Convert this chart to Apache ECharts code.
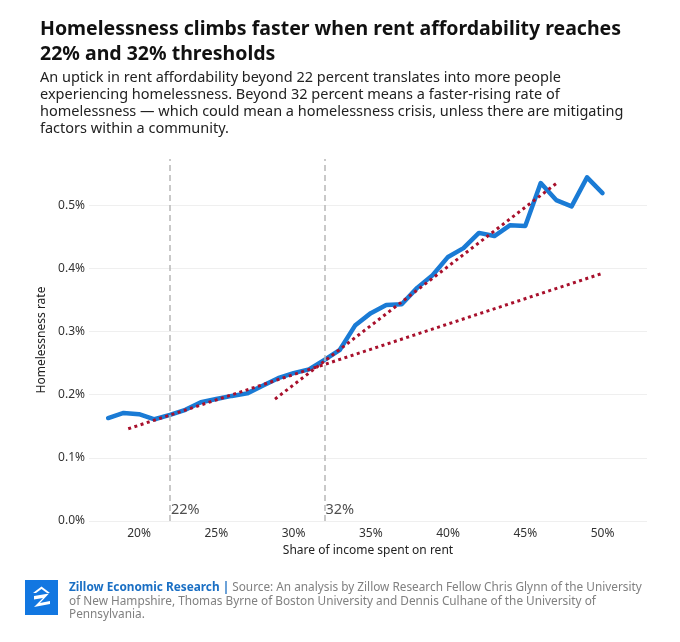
<!DOCTYPE html>
<html>
<head>
<meta charset="utf-8">
<script src="https://cdn.jsdelivr.net/npm/echarts@6/dist/echarts.min.js"></script>
<style>
html,body{margin:0;padding:0;background:#fff;}
#chart{width:680px;height:642px;}
</style>
</head>
<body>
<div id="chart"></div>
<script>
// ---- data ----
const rentShare = [18,19,20,21,22,23,24,25,26,27,28,29,30,31,32,33,34,35,36,37,38,39,40,41,42,43,44,45,46,47,48,49,50];
const homelessRate = [0.163,0.171,0.169,0.161,0.168,0.176,0.188,0.193,0.198,0.202,0.214,0.226,0.234,0.240,0.255,0.271,0.310,0.329,0.342,0.343,0.369,0.389,0.418,0.432,0.456,0.451,0.468,0.467,0.535,0.508,0.498,0.544,0.519];
const trendBelow32 = [[19.3,0.146],[50,0.392]];
const trendAbove32 = [[28.8,0.193],[47.1,0.536]];
const thresholds = [22, 32];
const thresholdLabels = ['22%', '32%'];
const xTicks = [20,25,30,35,40,45,50];
const yTicks = [0,0.1,0.2,0.3,0.4,0.5];

const FONT = '"Noto Sans", sans-serif';
const chart = echarts.init(document.getElementById('chart'), null, {renderer:'canvas'});

const option = {
  backgroundColor:'#fff',
  animation:false,
  textStyle:{fontFamily:FONT},
  title:[
    {text:'Homelessness climbs faster when rent affordability reaches\n22% and 32% thresholds',
     left:35, top:12,
     textStyle:{fontFamily:FONT, fontSize:19.5, fontWeight:'bold', color:'#111', lineHeight:25}},
    {text:'An uptick in rent affordability beyond 22 percent translates into more people\nexperiencing homelessness. Beyond 32 percent means a faster-rising rate of\nhomelessness \u2014 which could mean a homelessness crisis, unless there are mitigating\nfactors within a community.',
     left:35, top:64,
     textStyle:{fontFamily:FONT, fontSize:14.5, fontWeight:'normal', color:'#222', lineHeight:17}},
    {text:'{b|Zillow Economic Research |} Source: An analysis by Zillow Research Fellow Chris Glynn of the University\nof New Hampshire, Thomas Byrne of Boston University and Dennis Culhane of the University of\nPennsylvania.',
     left:64, top:576,
     textStyle:{fontFamily:FONT, fontSize:11.8, fontWeight:'normal', color:'#808080', lineHeight:13.5,
       rich:{b:{fontFamily:FONT, fontSize:11.8, fontWeight:'bold', color:'#1a6fc4', lineHeight:13.5}}}}
  ],
  graphic:[
    {type:'rect', left:25, top:580, shape:{width:33, height:35}, style:{fill:'#1277e1'}},
    {type:'polygon', shape:{points:[[33,593],[41.5,586.5],[50,593],[47,593],[41.5,589],[36,593]]}, style:{fill:'#fff'}},
    {type:'polygon', shape:{points:[[34,596],[49,593.5],[40,603],[50,601],[50,604],[34,607],[43,598],[34,599.5]]}, style:{fill:'#fff'}}
  ],
  grid:{left:89, right:33, top:159, bottom:121, containLabel:false},
  xAxis:{
    type:'value', min:16.76, max:52.88,
    name:'Share of income spent on rent', nameLocation:'middle', nameGap:24,
    nameTextStyle:{fontFamily:FONT, fontSize:12, color:'#222'},
    axisLine:{show:false}, axisTick:{show:false}, splitLine:{show:false},
    axisLabel:{customValues:xTicks, formatter:v=>v+'%', fontFamily:FONT, fontSize:12, color:'#333', margin:7}
  },
  yAxis:{
    type:'value', min:0, max:0.573, interval:0.1,
    name:'Homelessness rate', nameLocation:'middle', nameGap:34, nameRotate:90,
    nameTextStyle:{fontFamily:FONT, fontSize:12, color:'#222'},
    axisLine:{show:false}, axisTick:{show:false},
    splitLine:{show:true, showMaxLine:false, lineStyle:{color:'#efefef', width:1}},
    axisLabel:{showMaxLabel:false, formatter:v=>v.toFixed(1)+'%', fontFamily:FONT, fontSize:12, color:'#333', margin:4}
  },
  series:[
    {type:'line', data:rentShare.map((x,i)=>[x,homelessRate[i]]), showSymbol:false, z:3,
     lineStyle:{color:'#1a7bd5', width:4.5, cap:'round', join:'round'},
     markLine:{symbol:['none','none'], silent:true, label:{show:false},
       lineStyle:{color:'#b8b8b8', width:1.5, type:[6,4]},
       data:thresholds.map(t=>({xAxis:t}))}},
    {type:'line', data:trendBelow32, showSymbol:false, z:4,
     lineStyle:{color:'#a8102c', width:3, type:[3,3.5]}},
    {type:'line', data:trendAbove32, showSymbol:false, z:4,
     lineStyle:{color:'#a8102c', width:3, type:[3,3.5]}},
    {type:'scatter', data:thresholds.map((t,i)=>({value:[t,0.017], name:thresholdLabels[i]})), symbolSize:0, z:5,
     label:{show:true, position:'right', distance:1, formatter:p=>p.name, fontFamily:FONT, fontSize:14.5, color:'#222'}}
  ]
};
chart.setOption(option);
</script>
</body>
</html>
